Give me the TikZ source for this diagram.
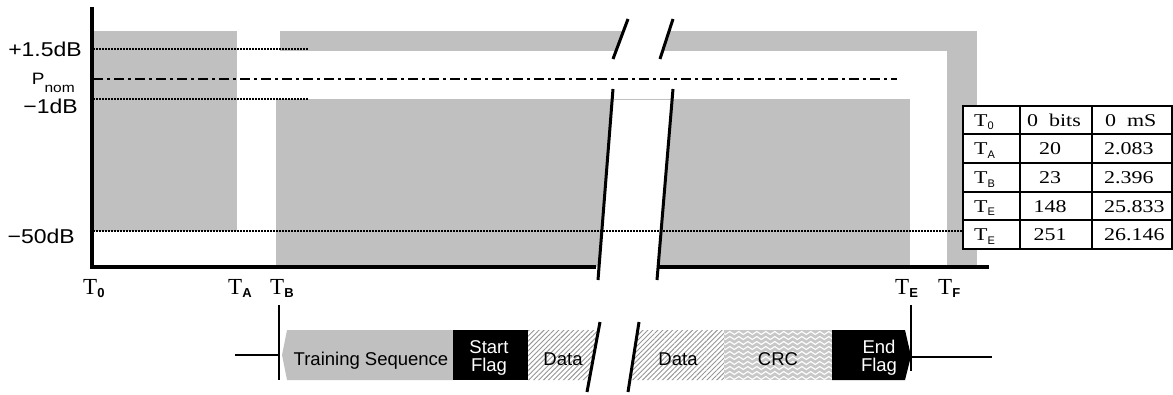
\documentclass[tikz,border=0pt]{standalone}
\usepackage{fontspec}
\setmainfont{Liberation Serif}
\setsansfont{Liberation Sans}
\newfontfamily\widesans[FakeStretch=1.15]{Liberation Sans}
\newfontfamily\wideserif[FakeStretch=1.22]{Liberation Serif}
\newfontfamily\packsans{Liberation Sans}
\usetikzlibrary{patterns.meta,decorations.pathmorphing}
\definecolor{bandgray}{RGB}{192,192,192}
\definecolor{hatchgray}{RGB}{150,150,150}
\definecolor{crcgray}{RGB}{200,200,200}
\newcommand{\axT}[1]{{\fontsize{23}{23}\selectfont T\raisebox{-3pt}{\sffamily\bfseries\fontsize{13}{13}\selectfont #1}}}
\newcommand{\tabT}[1]{T\raisebox{-3.5pt}{\sffamily\fontsize{11}{11}\selectfont #1}}
\begin{document}
\begin{tikzpicture}[x=1pt,y=-1pt,
  gband/.style={fill=bandgray},
  dotline/.style={line width=2pt,dash pattern=on 1.5pt off 1.5pt},
  dashdot/.style={line width=2pt,dash pattern=on 10pt off 4pt on 3pt off 4pt},
  axisline/.style={line width=4pt},
  breakline/.style={line width=3pt},
  tickline/.style={line width=2pt},
  wire/.style={line width=1.8pt},
  tabline/.style={line width=2pt},
  leftlab/.style={inner sep=0pt,anchor=base east,font=\widesans\fontsize{20}{20}\selectfont},
  axlab/.style={inner sep=0pt,anchor=base west},
  tabtxt/.style={inner sep=0pt,font=\wideserif\fontsize{18}{18}\selectfont},
  packtxt/.style={inner sep=0pt,anchor=base,font=\packsans\fontsize{18.5}{18.5}\selectfont},
  flagtxt/.style={inner sep=0pt,align=center,anchor=base,white,font=\packsans\fontsize{18.5}{18}\selectfont}]
\useasboundingbox (0,0) rectangle (1173,394);

% gray regions
\fill[gband] (93,31) rectangle (237,231);
\fill[gband] (280,31) rectangle (977,51);
\fill[gband] (947,31) rectangle (977,267);
\fill[gband] (276,99) rectangle (910,267);
% gaps of the breaks
\fill[white] (628,19) -- (673,19) -- (660,59) -- (613,59) -- cycle;
\fill[white] (613,89) -- (673,89) -- (657,282) -- (598,282) -- cycle;
\draw[bandgray,line width=0.8pt] (613,99) -- (672,99);

% level lines
\coordinate (p15a) at (93,49);  \coordinate (p15b) at (308,49);
\coordinate (m1a) at (93,99);   \coordinate (m1b) at (308,99);
\coordinate (m50a) at (93,231); \coordinate (m50b) at (963,231);
\coordinate (nomA) at (93,79);  \coordinate (nomB) at (897,79);
\draw[dotline] (p15a) -- (p15b);
\draw[dotline] (m1a) -- (m1b);
\draw[dotline] (m50a) -- (m50b);
\draw[dashdot] (nomA) -- (nomB);

% axes
\coordinate (ytop) at (92,7);
\coordinate (orig) at (92,269);
\coordinate (xl) at (90,267);
\coordinate (xlb) at (596,267);
\coordinate (xrb) at (659,267);
\coordinate (xr) at (989,267);
\draw[axisline] (ytop) -- (orig);
\draw[axisline] (xl) -- (xlb);
\draw[axisline] (xrb) -- (xr);

% break marks
\coordinate (s1a) at (628,19); \coordinate (s1b) at (613,59);
\coordinate (s2a) at (673,19); \coordinate (s2b) at (660,59);
\coordinate (s3a) at (613,89); \coordinate (s3b) at (598,280);
\coordinate (s4a) at (673,89); \coordinate (s4b) at (657,280);
\draw[breakline] (s1a) -- (s1b);
\draw[breakline] (s2a) -- (s2b);
\draw[breakline] (s3a) -- (s3b);
\draw[breakline] (s4a) -- (s4b);

% left labels
\node[leftlab] (l15) at (82,56) {+1.5dB};
\node[leftlab] (lnom) at (75,84) {\fontsize{16.5}{16.5}\selectfont P\raisebox{-8pt}{\fontsize{13.5}{13.5}\selectfont nom}};
\node[leftlab] (l1) at (78,113) {−1dB};
\node[leftlab] (l50) at (75,243) {−50dB};

% time labels
\node[axlab] (t0) at (83,294) {\axT{0}};
\node[axlab] (ta) at (228,294) {\axT{A}};
\node[axlab] (tb) at (270,294) {\axT{B}};
\node[axlab] (te) at (895,294) {\axT{E}};
\node[axlab] (tf) at (938,294) {\axT{F}};

% table
\fill[white] (963,106) rectangle (1180,249);
\draw[tabline] (963,106) rectangle (1172,249);
\foreach \yy in {134,163,192,220} \draw[tabline] (963,\yy) -- (1172,\yy);
\draw[tabline] (1020,106) -- (1020,249);
\draw[tabline] (1092,106) -- (1092,249);
\node[tabtxt,anchor=base west] (r1a) at (974,126) {\tabT{0}};
\node[tabtxt,anchor=base west] (r1b) at (1027,126) {0\ \ bits};
\node[tabtxt,anchor=base west] (r1c) at (1105,126) {0\ \ mS};
\node[tabtxt,anchor=base west] (r2a) at (974,154.5) {\tabT{A}};
\node[tabtxt,anchor=base] (r2b) at (1050,154.5) {20};
\node[tabtxt,anchor=base west] (r2c) at (1104,154.5) {2.083};
\node[tabtxt,anchor=base west] (r3a) at (974,183.5) {\tabT{B}};
\node[tabtxt,anchor=base] (r3b) at (1050,183.5) {23};
\node[tabtxt,anchor=base west] (r3c) at (1104,183.5) {2.396};
\node[tabtxt,anchor=base west] (r4a) at (974,212) {\tabT{E}};
\node[tabtxt,anchor=base] (r4b) at (1050,212) {148};
\node[tabtxt,anchor=base west] (r4c) at (1104,212) {25.833};
\node[tabtxt,anchor=base west] (r5a) at (974,240.5) {\tabT{E}};
\node[tabtxt,anchor=base] (r5b) at (1050,240.5) {251};
\node[tabtxt,anchor=base west] (r5c) at (1104,240.5) {26.146};

% packet row
\fill[bandgray] (287,330) -- (453,330) -- (453,380) -- (287,380) -- (282,355) -- cycle;
\fill[black] (453,330) rectangle (528,380);
\fill[white] (528,330) -- (598,330) -- (589,380) -- (528,380) -- cycle;
\fill[pattern={Lines[angle=45,distance=3.5pt,line width=0.9pt]},pattern color=hatchgray]
  (528,330) -- (598,330) -- (589,380) -- (528,380) -- cycle;
\fill[pattern={Lines[angle=45,distance=3.5pt,line width=0.9pt]},pattern color=hatchgray]
  (638,330) -- (724,330) -- (724,380) -- (630,380) -- cycle;
\begin{scope}
  \clip (724,330) rectangle (832,380);
  \fill[crcgray] (724,330) rectangle (832,380);
  \foreach \yy in {328,333,...,383}
    \draw[white,line width=1.1pt,decorate,decoration={snake,amplitude=1.5pt,segment length=9pt}] (718,\yy) -- (838,\yy);
\end{scope}
\fill[black] (832,330) -- (905,330) -- (911,356) -- (905,380) -- (832,380) -- cycle;

\coordinate (wl) at (235,355);
\coordinate (tbk) at (279,355);
\coordinate (tbt) at (279,305);
\coordinate (tbb) at (279,380);
\coordinate (tek) at (911,357);
\coordinate (tet) at (911,305);
\coordinate (teb) at (911,371);
\coordinate (wr) at (992,357);
\draw[wire] (wl) -- (tbk);
\draw[tickline] (tbt) -- (tbb);
\draw[wire] (tek) -- (wr);
\draw[tickline] (tet) -- (teb);

\coordinate (b1a) at (600,322); \coordinate (b1b) at (587,392);
\coordinate (b2a) at (639,322); \coordinate (b2b) at (628,392);
\draw[breakline] (b1a) -- (b1b);
\draw[breakline] (b2a) -- (b2b);

\node[packtxt] (train) at (371,365) {Training Sequence};
\node[flagtxt] (start) at (489,371) {Start\\Flag};
\node[packtxt] (data1) at (563,365) {Data};
\node[packtxt] (data2) at (678,365) {Data};
\node[packtxt] (crc) at (778,365) {CRC};
\node[flagtxt] (endf) at (879,371) {End\\Flag};
\end{tikzpicture}
\end{document}
